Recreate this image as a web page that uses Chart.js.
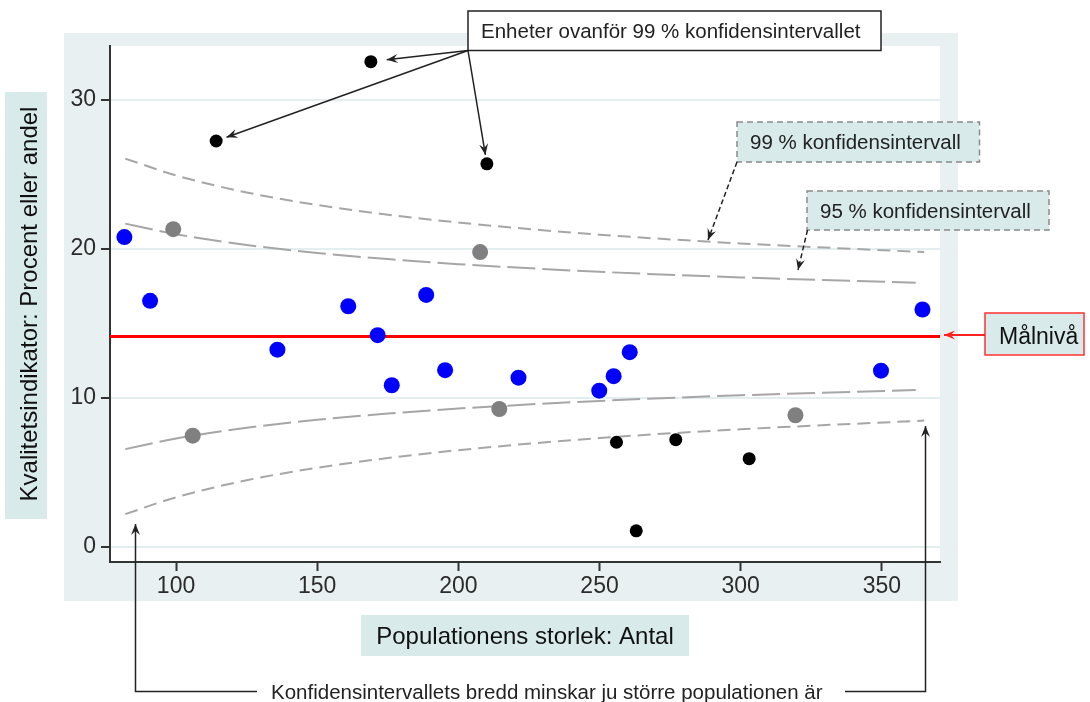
<!DOCTYPE html>
<html>
<head>
<meta charset="utf-8">
<script src="https://cdn.jsdelivr.net/npm/chart.js@4"></script>
<style>
  html, body { margin: 0; padding: 0; background: #fff; }
  #chart { display: block; }
</style>
</head>
<body>
<canvas id="chart" width="1090" height="702"></canvas>
<script>
// axis ticks and ranges
const xTicks = [100, 150, 200, 250, 300, 350];
const yTicks = [0, 10, 20, 30];
const xRange = [76.6, 370.6];
const yRange = [-1, 33.6];

// units inside the confidence band
const blueX = [81.7, 90.8, 135.9, 161.0, 171.4, 176.4, 188.6, 195.3, 221.3, 249.9, 255.0, 260.7, 349.7, 364.4];
const blueY = [20.79, 16.51, 13.24, 16.15, 14.21, 10.85, 16.91, 11.86, 11.36, 10.49, 11.46, 13.07, 11.83, 15.93];
// units between 95 and 99 %
const grayX = [99.0, 105.9, 207.7, 214.5, 319.4];
const grayY = [21.32, 7.47, 19.78, 9.26, 8.84];
// units outside 99 %
const blackX = [169.0, 114.2, 210.1, 256.0, 263.0, 277.0, 303.0];
const blackY = [32.55, 27.23, 25.70, 7.03, 1.09, 7.20, 5.93];

const targetLevel = 14.12;

const ci99X = [82, 100, 125, 150, 175, 200, 250, 300, 365];
const ci99Upper = [26.05, 24.92, 23.78, 22.94, 22.29, 21.76, 20.95, 20.36, 19.78];
const ci99Lower = [2.21, 3.34, 4.48, 5.32, 5.97, 6.50, 7.31, 7.90, 8.48];
const ci95X = [82, 100, 125, 150, 175, 200, 250, 300, 362];
const ci95Upper = [21.69, 20.98, 20.26, 19.72, 19.31, 18.97, 18.46, 18.08, 17.73];
const ci95Lower = [6.57, 7.28, 8.00, 8.54, 8.95, 9.29, 9.80, 10.18, 10.53];

const FONT = '"Liberation Sans", Arial, sans-serif';
const PANEL = '#e8f0f1';
const BOXFILL = '#d9eaea';

const pts = (xs, ys) => xs.map((x, i) => ({ x: x, y: ys[i] }));

function arrowHead(ctx, x1, y1, x2, y2) {
	const a = Math.atan2(y2 - y1, x2 - x1);
	ctx.save();
	ctx.translate(x2, y2);
	ctx.rotate(a);
	ctx.setLineDash([]);
	ctx.beginPath();
	ctx.moveTo(0, 0);
	ctx.lineTo(-11, -4.5);
	ctx.lineTo(-7, 0);
	ctx.lineTo(-11, 4.5);
	ctx.closePath();
	ctx.fill();
	ctx.restore();
}

function arrow(ctx, path, color, width, dash) {
	ctx.save();
	ctx.strokeStyle = color;
	ctx.fillStyle = color;
	ctx.lineWidth = width;
	ctx.setLineDash(dash || []);
	ctx.beginPath();
	ctx.moveTo(path[0][0], path[0][1]);
	for (let i = 1; i < path.length; i++) ctx.lineTo(path[i][0], path[i][1]);
	ctx.stroke();
	const n = path.length;
	arrowHead(ctx, path[n - 2][0], path[n - 2][1], path[n - 1][0], path[n - 1][1]);
	ctx.restore();
}

function box(ctx, x, y, w, h, fill, stroke, dash) {
	ctx.save();
	ctx.fillStyle = fill;
	ctx.fillRect(x, y, w, h);
	ctx.strokeStyle = stroke;
	ctx.lineWidth = 1.5;
	ctx.setLineDash(dash || []);
	ctx.strokeRect(x, y, w, h);
	ctx.restore();
}

const backdrop = {
	id: 'backdrop',
	beforeDraw(chart) {
		const { ctx, chartArea: a } = chart;
		ctx.save();
		ctx.fillStyle = '#fff';
		ctx.fillRect(0, 0, chart.width, chart.height);
		ctx.fillStyle = PANEL;
		ctx.fillRect(64, 33, 894, 568);
		ctx.fillStyle = '#fff';
		ctx.fillRect(a.left, a.top, a.right - a.left, a.bottom - a.top);

		// axis titles
		ctx.fillStyle = BOXFILL;
		ctx.fillRect(5, 92, 42, 427);
		ctx.fillRect(361, 615, 328, 41);
		ctx.fillStyle = '#111';
		ctx.font = `24px ${FONT}`;
		ctx.textBaseline = 'alphabetic';
		ctx.textAlign = 'center';
		ctx.fillText('Populationens storlek: Antal', 525, 644);
		ctx.translate(36.5, 304);
		ctx.rotate(-Math.PI / 2);
		ctx.fillText('Kvalitetsindikator: Procent eller andel', 0, 0);
		ctx.restore();
	}
};

const notes = {
	id: 'notes',
	afterDraw(chart) {
		const { ctx, scales } = chart;
		ctx.save();
		ctx.textBaseline = 'alphabetic';
		ctx.textAlign = 'left';
		ctx.font = `20.5px ${FONT}`;

		// units above the 99 % interval
		box(ctx, 468, 11, 413, 39.5, '#fff', '#222');
		ctx.fillStyle = '#222';
		ctx.fillText('Enheter ovanför 99 % konfidensintervallet', 481, 37.5);
		const ox = 468, oy = 50.5;
		const gaps = [16, 11, 9];
		for (let i = 0; i < 3; i++) {
			const px = scales.x.getPixelForValue(blackX[i]);
			const py = scales.y.getPixelForValue(blackY[i]);
			const d = Math.hypot(ox - px, oy - py);
			const tx = px + (ox - px) / d * gaps[i];
			const ty = py + (oy - py) / d * gaps[i];
			arrow(ctx, [[ox, oy], [tx, ty]], '#222', 1.5);
		}

		// interval labels
		box(ctx, 737, 122, 242.5, 40, BOXFILL, '#8a8a8a', [6, 4]);
		box(ctx, 807, 191, 242, 39, BOXFILL, '#8a8a8a', [6, 4]);
		ctx.fillStyle = '#222';
		ctx.fillText('99 % konfidensintervall', 750, 149);
		ctx.fillText('95 % konfidensintervall', 820, 217.5);
		arrow(ctx, [[737, 162], [708, 240]], '#222', 1.5, [5, 3]);
		arrow(ctx, [[807.5, 230], [798, 270]], '#222', 1.5, [5, 3]);

		// target level
		box(ctx, 985, 313, 99, 42, BOXFILL, '#ff3030');
		ctx.fillStyle = '#111';
		ctx.font = `23px ${FONT}`;
		ctx.fillText('Målnivå', 999, 343.5);
		arrow(ctx, [[985, 335], [944, 335]], '#ff2020', 2);

		// bottom note
		ctx.font = `20.5px ${FONT}`;
		ctx.fillStyle = '#222';
		ctx.fillText('Konfidensintervallets bredd minskar ju större populationen är', 271, 699);
		arrow(ctx, [[257, 691.5], [135.5, 691.5], [135.5, 524]], '#222', 1.5);
		arrow(ctx, [[845, 691.5], [925.5, 691.5], [925.5, 426]], '#222', 1.5);
		ctx.restore();
	}
};

const ciLine = (xs, ys, dash) => ({
	type: 'line',
	data: pts(xs, ys),
	showLine: true,
	borderColor: '#a6a6a6',
	borderWidth: 2,
	borderDash: dash,
	pointRadius: 0,
	fill: false,
	cubicInterpolationMode: 'monotone',
	order: 3
});

const canvas = document.getElementById('chart');
new Chart(canvas.getContext('2d'), {
	type: 'scatter',
	data: {
		datasets: [
			{ data: pts(blueX, blueY), pointRadius: 8, backgroundColor: '#0000ff', borderWidth: 0, order: 0 },
			{ data: pts(grayX, grayY), pointRadius: 8, backgroundColor: '#808080', borderWidth: 0, order: 0 },
			{ data: pts(blackX, blackY), pointRadius: 6.5, backgroundColor: '#000', borderWidth: 0, order: 0 },
			{
				type: 'line',
				data: [{ x: xRange[0], y: targetLevel }, { x: xRange[1], y: targetLevel }],
				borderColor: '#ff0000',
				borderWidth: 3,
				pointRadius: 0,
				order: 1
			},
			ciLine(ci99X, ci99Upper, [13, 7]),
			ciLine(ci99X, ci99Lower, [13, 7]),
			ciLine(ci95X, ci95Upper, [28, 7]),
			ciLine(ci95X, ci95Lower, [28, 7])
		]
	},
	options: {
		responsive: false,
		animation: false,
		layout: { padding: { left: 50, right: 150, top: 46, bottom: 100 } },
		plugins: {
			legend: { display: false },
			tooltip: { enabled: false }
		},
		scales: {
			x: {
				type: 'linear',
				min: xRange[0],
				max: xRange[1],
				afterBuildTicks: s => { s.ticks = xTicks.map(v => ({ value: v })); },
				afterFit: s => { s.height = 40; },
				grid: { drawOnChartArea: false, drawTicks: true, tickLength: 9, tickColor: '#333', tickWidth: 2 },
				border: { display: true, color: '#333', width: 2 },
				ticks: { color: '#2b2b2b', padding: 2, font: { family: FONT, size: 23 } }
			},
			y: {
				type: 'linear',
				min: yRange[0],
				max: yRange[1],
				afterBuildTicks: s => { s.ticks = yTicks.map(v => ({ value: v })); },
				afterFit: s => { s.width = 60; },
				grid: { color: '#e3eef0', lineWidth: 2, drawTicks: true, tickLength: 9, tickColor: '#333', tickWidth: 2 },
				border: { display: true, color: '#333', width: 2 },
				ticks: { color: '#2b2b2b', padding: 5, font: { family: FONT, size: 23 } }
			}
		}
	},
	plugins: [backdrop, notes]
});
</script>
</body>
</html>
